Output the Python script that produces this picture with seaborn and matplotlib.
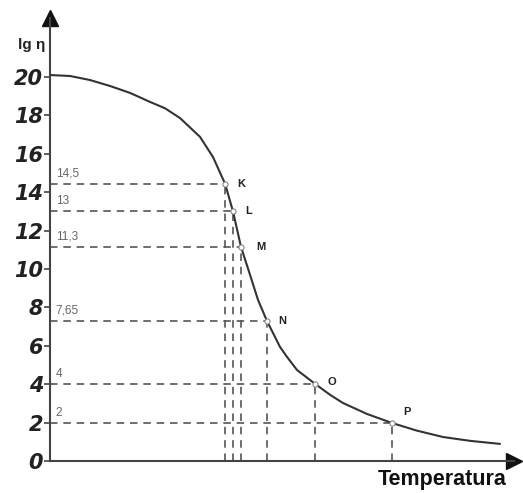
import matplotlib
matplotlib.use("Agg")
import matplotlib.pyplot as plt
import seaborn as sns
import pandas as pd

# Curve (x: temperature in arbitrary units, y: lg eta)
curve_x = [0, 20, 40, 60, 80, 100, 115, 130, 150, 163, 172, 175, 183, 191, 200, 208,
           217, 230, 237, 247, 265, 280, 293, 317, 342, 367, 393, 420, 450]
curve_y = [20.1, 20.05, 19.84, 19.53, 19.17, 18.7, 18.37, 17.86, 16.88, 15.83, 14.79,
           14.45, 13.0, 11.15, 9.7, 8.39, 7.29, 5.94, 5.42, 4.74, 4.02, 3.45, 3.02, 2.45,
           1.98, 1.58, 1.25, 1.05, 0.89]

# Marked points
point_names = ["K", "L", "M", "N", "O", "P"]
point_x = [175, 183, 191, 217, 265, 342]
point_y = [14.45, 13.0, 11.15, 7.29, 4.02, 1.98]
level_labels = ["14,5", "13", "11,3", "7,65", "4", "2"]

y_ticks = [0, 2, 4, 6, 8, 10, 12, 14, 16, 18, 20]

sns.set_style("white")
plt.rcParams['font.family'] = ['DejaVu Sans']

fig = plt.figure(figsize=(5.23, 4.93), dpi=100)
ax = fig.add_axes([50/523, 32/493, (514-50)/523, (461-18)/493])

curve = pd.DataFrame({"x": curve_x, "y": curve_y})
pts = pd.DataFrame({"x": point_x, "y": point_y, "name": point_names})

dash_col = "#555555"
for px, py in zip(point_x, point_y):
    ax.plot([0, px], [py, py], color=dash_col, lw=1.2, dashes=(4.5, 3.5), zorder=1)
    ax.plot([px, px], [0, py], color=dash_col, lw=1.2, dashes=(4.5, 3.5), zorder=1)

sns.lineplot(data=curve, x="x", y="y", ax=ax, color="#333333", lw=1.5, sort=False,
             estimator=None, zorder=3, solid_joinstyle="round")
sns.scatterplot(data=pts, x="x", y="y", ax=ax, s=14, facecolor="white",
                edgecolor="#888888", linewidth=0.8, zorder=4)

offsets = {"K": (9, 0), "L": (9, 0), "M": (11, 0), "N": (8, 0), "O": (9, 1), "P": (8, 8)}
for n, px, py in zip(point_names, point_x, point_y):
    dx, dy = offsets[n]
    ax.annotate(n, (px, py), xytext=(dx, dy), textcoords="offset points",
                fontsize=8, fontweight="bold", color="#222222", va="center", ha="left",
                family="Liberation Sans")

for lab, py in zip(level_labels, point_y):
    ax.annotate(lab, (0, py), xytext=(4, 3), textcoords="offset points",
                fontsize=8.5, color="#666666", va="bottom", ha="left",
                family="Liberation Sans")

ax.set_xlim(0, 464)
ax.set_ylim(0, 23.07)
ax.set_yticks(y_ticks)
ax.set_yticklabels([str(t) for t in y_ticks])
for lbl in ax.get_yticklabels():
    lbl.set_fontsize(15)
    lbl.set_fontweight("bold")
    lbl.set_fontstyle("oblique")
    lbl.set_color("#222222")
ax.set_xticks([])
ax.tick_params(axis="y", direction="out", length=4, width=1.2, color="#444444", pad=1,
               left=True)
ax.set_xlabel("")
ax.set_ylabel("")

for s in ["top", "right"]:
    ax.spines[s].set_visible(False)
for s in ["left", "bottom"]:
    ax.spines[s].set_color("#444444")
    ax.spines[s].set_linewidth(1.5)

ax.plot(1, 0, ">", color="#111111", ms=11, transform=ax.transAxes, clip_on=False)
ax.plot(0, 1, "^", color="#111111", ms=11, transform=ax.transAxes, clip_on=False)

fig.text(32/523, 1 - 45/493, "lg η", fontsize=11, fontweight="bold", ha="center",
         va="center", color="#222222", family="Liberation Sans")
fig.text(442/523, 1 - 480/493, "Temperatura", fontsize=15.5, fontweight="bold",
         ha="center", va="center", color="#111111", family="Liberation Sans")

fig.savefig("out.png", dpi=100)
